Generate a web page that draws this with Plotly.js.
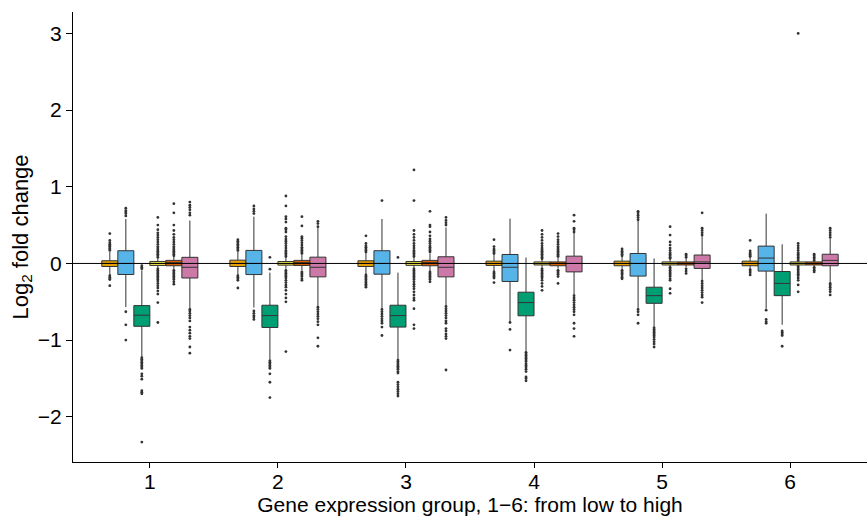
<!DOCTYPE html>
<html>
<head>
<meta charset="utf-8">
<script src="https://cdn.plot.ly/plotly-3.0.1.min.js"></script>
<style>
  html, body { margin: 0; padding: 0; background: #fff; }
  #chart { width: 867px; height: 519px; }
</style>
</head>
<body>
<div id="chart"></div>
<script>
// Expression groups on the x axis (1 = lowest, 6 = highest)
const groups = [1, 2, 3, 4, 5, 6];
const tickLabels = ['1', '2', '3', '4', '5', '6'];

// Per-series box statistics: Q1, median, Q3, lower and upper whisker ends
const orangeQ1  = [-0.04, -0.04, -0.04, -0.026, -0.03, -0.03];
const orangeMed = [0, 0, 0, 0, 0, 0];
const orangeQ3  = [0.035, 0.043, 0.035, 0.03, 0.03, 0.03];
const orangeLo  = [-0.15, -0.15, -0.14, -0.1, -0.08, -0.07];
const orangeHi  = [0.15, 0.16, 0.14, 0.12, 0.09, 0.08];
const orangeOut = [
  [0.17, 0.19, 0.2, 0.22, 0.23, 0.25, 0.27, 0.3, 0.39, -0.16, -0.18, -0.2, -0.21, -0.29],
  [0.17, 0.19, 0.21, 0.23, 0.25, 0.27, 0.29, 0.31, -0.16, -0.18, -0.2, -0.22, -0.32],
  [0.15, 0.17, 0.19, 0.21, 0.23, 0.26, 0.36, -0.15, -0.17, -0.19, -0.21, -0.23, -0.25, -0.27, -0.29, -0.31],
  [0.13, 0.15, 0.17, 0.19, 0.22, 0.31, -0.11, -0.13, -0.15, -0.17, -0.19, -0.25],
  [0.1, 0.12, 0.14, 0.16, 0.19, -0.09, -0.11, -0.13, -0.15, -0.18, -0.2],
  [0.09, 0.1, 0.12, 0.14, 0.165, 0.3, -0.08, -0.1, -0.12, -0.15]
];

const blueQ1  = [-0.144, -0.145, -0.14, -0.235, -0.165, -0.1];
const blueMed = [0, 0, 0, -0.05, 0, 0.07];
const blueQ3  = [0.166, 0.17, 0.166, 0.117, 0.13, 0.226];
const blueLo  = [-0.57, -0.575, -0.59, -0.76, -0.59, -0.59];
const blueHi  = [0.58, 0.61, 0.58, 0.585, 0.565, 0.65];
const blueOut = [
  [0.62, 0.65, 0.67, 0.69, 0.72, -0.63, -0.8, -1.0],
  [0.65, 0.68, 0.71, 0.75, -0.62, -0.65, -0.68, -0.7, -0.73],
  [0.82, -0.6, -0.63, -0.66, -0.69, -0.72, -0.75, -0.78, -0.83, -0.94],
  [-0.77, -0.86, -1.13],
  [0.57, 0.6, 0.63, 0.66, 0.68, -0.6, -0.63, -0.67, -0.78],
  [-0.61, -0.73, -0.76, -0.78]
];

const greenQ1  = [-0.82, -0.835, -0.83, -0.683, -0.52, -0.42];
const greenMed = [-0.675, -0.68, -0.68, -0.51, -0.42, -0.26];
const greenQ3  = [-0.55, -0.545, -0.545, -0.375, -0.31, -0.105];
const greenLo  = [-1.22, -1.26, -1.25, -1.15, -0.83, -0.8];
const greenHi  = [-0.09, -0.12, -0.12, 0.078, 0.065, 0.25];
const greenOut = [
  [-0.03, -0.05, -0.07, -1.23, -1.25, -1.27, -1.29, -1.31, -1.33, -1.35, -1.37, -1.44, -1.47, -1.51, -1.66, -1.68, -1.7, -2.33],
  [0.08, -0.075, -1.27, -1.29, -1.31, -1.33, -1.35, -1.37, -1.44, -1.55, -1.75],
  [0.078, -1.26, -1.28, -1.3, -1.32, -1.34, -1.36, -1.38, -1.41, -1.43, -1.55, -1.58, -1.61, -1.64, -1.67, -1.7, -1.73],
  [-1.16, -1.18, -1.2, -1.22, -1.24, -1.26, -1.28, -1.31, -1.33, -1.35, -1.38, -1.41, -1.48, -1.5, -1.53],
  [-0.84, -0.86, -0.88, -0.9, -0.92, -0.94, -0.96, -0.99, -1.02, -1.05, -1.09],
  [-0.88, -0.9, -0.92, -0.94, -1.08]
];

const yellowQ1  = [-0.026, -0.022, -0.025, -0.02, -0.02, -0.02];
const yellowMed = [0, 0, 0, 0, 0, 0];
const yellowQ3  = [0.026, 0.025, 0.025, 0.02, 0.02, 0.02];
const yellowLo  = [-0.065, -0.07, -0.065, -0.06, -0.045, -0.035];
const yellowHi  = [0.07, 0.08, 0.08, 0.055, 0.06, 0.035];
const yellowOut = [
  [0.08, 0.1, 0.12, 0.14, 0.16, 0.18, 0.2, 0.22, 0.25, 0.28, 0.31, 0.34, 0.37, 0.4, 0.44, 0.5, 0.6,
   -0.07, -0.09, -0.11, -0.13, -0.15, -0.17, -0.19, -0.21, -0.23, -0.26, -0.29, -0.32, -0.36, -0.4, -0.51, -0.77],
  [0.09, 0.11, 0.13, 0.15, 0.17, 0.2, 0.23, 0.26, 0.29, 0.32, 0.35, 0.41, 0.44, 0.46, 0.54, 0.58, 0.61, 0.75, 0.88,
   -0.09, -0.11, -0.13, -0.15, -0.17, -0.19, -0.22, -0.25, -0.28, -0.31, -0.35, -0.4, -0.45, -0.5, -1.15],
  [0.09, 0.11, 0.13, 0.15, 0.17, 0.2, 0.23, 0.26, 0.3, 0.34, 0.38, 0.43, 0.82, 1.22,
   -0.07, -0.09, -0.11, -0.13, -0.15, -0.17, -0.19, -0.21, -0.24, -0.27, -0.3, -0.33, -0.37, -0.41, -0.45, -0.48, -0.59, -0.8, -0.85],
  [0.06, 0.08, 0.1, 0.12, 0.14, 0.16, 0.18, 0.2, 0.23, 0.26, 0.3, 0.34, 0.38, 0.43,
   -0.07, -0.09, -0.11, -0.13, -0.15, -0.17, -0.19, -0.22, -0.26, -0.3, -0.35],
  [0.065, 0.08, 0.1, 0.12, 0.14, 0.17, 0.2, 0.24, 0.28, 0.37, 0.48,
   -0.05, -0.07, -0.09, -0.11, -0.13, -0.15, -0.17, -0.2, -0.22, -0.33, -0.39],
  [0.04, 0.06, 0.08, 0.1, 0.12, 0.14, 0.17, 0.2, 0.23, 0.26, 3.0,
   -0.04, -0.06, -0.08, -0.1, -0.12, -0.14, -0.16, -0.19, -0.22, -0.28, -0.37]
];

const redQ1  = [-0.03, -0.026, -0.03, -0.03, -0.02, -0.02];
const redMed = [0.01, 0.01, 0.01, 0, 0, 0];
const redQ3  = [0.04, 0.04, 0.04, 0.02, 0.02, 0.02];
const redLo  = [-0.08, -0.09, -0.1, -0.07, -0.05, -0.04];
const redHi  = [0.09, 0.11, 0.13, 0.07, 0.07, 0.03];
const redOut = [
  [0.1, 0.12, 0.14, 0.16, 0.18, 0.2, 0.22, 0.25, 0.28, 0.31, 0.34, 0.38, 0.43, 0.5, 0.66, 0.78,
   -0.09, -0.11, -0.13, -0.15, -0.17, -0.19, -0.21, -0.24, -0.27],
  [0.13, 0.15, 0.17, 0.19, 0.21, 0.24, 0.27, 0.3, 0.33, 0.35, 0.49, 0.61,
   -0.11, -0.13, -0.15, -0.17, -0.2, -0.22],
  [0.15, 0.17, 0.19, 0.21, 0.23, 0.26, 0.29, 0.32, 0.36, 0.41, 0.48, 0.5, 0.68,
   -0.11, -0.13, -0.15, -0.17, -0.19, -0.21, -0.24],
  [0.09, 0.1, 0.12, 0.14, 0.16, 0.18, 0.2, 0.22, 0.25, 0.28, 0.31, 0.35, 0.39,
   -0.09, -0.1, -0.12, -0.14, -0.17, -0.26],
  [0.08, 0.1, 0.12, -0.07, -0.1, -0.13],
  [0.04, 0.06, 0.08, 0.1, 0.12, -0.05, -0.07, -0.09, -0.11]
];

const pinkQ1  = [-0.19, -0.175, -0.175, -0.11, -0.065, -0.03];
const pinkMed = [-0.05, -0.05, -0.05, 0, 0.02, 0.04];
const pinkQ3  = [0.08, 0.082, 0.087, 0.095, 0.11, 0.12];
const pinkLo  = [-0.59, -0.56, -0.545, -0.41, -0.22, -0.24];
const pinkHi  = [0.56, 0.47, 0.47, 0.4, 0.36, 0.32];
const pinkOut = [
  [0.63, 0.66, 0.7, 0.73, 0.76, 0.8,
   -0.6, -0.62, -0.65, -0.68, -0.71, -0.75, -0.83, -0.87, -0.91, -0.95, -0.98, -1.09, -1.17],
  [0.48, 0.52, 0.55, -0.57, -0.6, -0.63, -0.66, -0.69, -0.72, -0.76, -0.8, -0.97, -1.08],
  [0.5, 0.53, 0.56, 0.6,
   -0.56, -0.59, -0.62, -0.65, -0.68, -0.71, -0.75, -0.78, -0.85, -0.88, -0.92, -0.95, -0.98, -1.39],
  [0.41, 0.44, 0.46, 0.55, 0.63,
   -0.42, -0.45, -0.48, -0.51, -0.54, -0.57, -0.6, -0.63, -0.67, -0.78, -0.85, -0.95],
  [0.37, 0.4, 0.43, 0.46, 0.66, -0.23, -0.26, -0.29, -0.32, -0.35, -0.38, -0.41, -0.44, -0.51],
  [0.34, 0.37, 0.4, 0.43, 0.46, -0.26, -0.28, -0.31, -0.34, -0.37, -0.41]
];

const seriesColors = ['#E69F00', '#56B4E9', '#009E73', '#F0E442', '#D55E00', '#CC79A7'];
const seriesNames  = ['Set A', 'Set B', 'Set C', 'Set D', 'Set E', 'Set F'];

const series = [
  [orangeQ1, orangeMed, orangeQ3, orangeLo, orangeHi, orangeOut],
  [blueQ1, blueMed, blueQ3, blueLo, blueHi, blueOut],
  [greenQ1, greenMed, greenQ3, greenLo, greenHi, greenOut],
  [yellowQ1, yellowMed, yellowQ3, yellowLo, yellowHi, yellowOut],
  [redQ1, redMed, redQ3, redLo, redHi, redOut],
  [pinkQ1, pinkMed, pinkQ3, pinkLo, pinkHi, pinkOut]
];

const BOXGAP = 0.25;
const nSeries = series.length;
const slot = (1 - BOXGAP) / nSeries;   // width of one box in x units

const traces = [];
// Boxes from precomputed statistics, dodged by boxmode 'group'
series.forEach((s, k) => {
  traces.push({
    type: 'box',
    name: seriesNames[k],
    x: groups,
    q1: s[0], median: s[1], q3: s[2],
    lowerfence: s[3], upperfence: s[4],
    boxpoints: false,
    fillcolor: seriesColors[k],
    line: { color: '#333333', width: 1 },
    whiskerwidth: 0,
    hoverinfo: 'skip',
    showlegend: false
  });
});
// Outlying points, placed at the centre of each dodged box
series.forEach((s, k) => {
  const xs = [], ys = [];
  const shift = (k - (nSeries - 1) / 2) * slot;
  s[5].forEach((vals, gi) => {
    vals.forEach(v => { xs.push(groups[gi] + shift); ys.push(v); });
  });
  traces.push({
    type: 'scatter', mode: 'markers',
    x: xs, y: ys,
    marker: { size: 2.8, color: '#333333' },
    hoverinfo: 'skip', showlegend: false
  });
});

const family = 'Liberation Sans, Arial, sans-serif';
const tickFont = { family: family, size: 21, color: '#000' };
const xTitleFont = { family: family, size: 21, color: '#000' };
const yTitleFont = { family: family, size: 22, color: '#000' };

const layout = {
  width: 867, height: 519,
  margin: { l: 73, r: 0, t: 12, b: 57 },
  paper_bgcolor: '#fff', plot_bgcolor: '#fff',
  font: tickFont,
  boxmode: 'group', boxgap: BOXGAP, boxgroupgap: 0,
  showlegend: false,
  xaxis: {
    type: 'linear', range: [0.4, 6.6],
    tickvals: groups, ticktext: tickLabels,
    ticks: 'outside', ticklen: 5, tickcolor: '#000', tickwidth: 1,
    ticklabelstandoff: -4,
    showline: true, linecolor: '#000', linewidth: 1,
    showgrid: false, zeroline: false,
    tickfont: tickFont,
    title: { text: 'Gene expression group, 1\u22126: from low to high', font: xTitleFont, standoff: 3 }
  },
  yaxis: {
    range: [-2.59, 3.28], tickvals: [-2, -1, 0, 1, 2, 3],
    ticks: 'outside', ticklen: 6, tickcolor: '#000', tickwidth: 1,
    showline: true, linecolor: '#000', linewidth: 1,
    showgrid: false, zeroline: false,
    tickfont: tickFont,
    title: { text: 'Log<sub>2</sub> fold change', font: yTitleFont, standoff: 3 }
  },
  shapes: [{
    type: 'line', xref: 'paper', yref: 'y',
    x0: 0, x1: 1, y0: 0, y1: 0,
    line: { color: '#000', width: 1 }, layer: 'above'
  }]
};

Plotly.newPlot('chart', traces, layout, { displayModeBar: false, staticPlot: true });
</script>
</body>
</html>
